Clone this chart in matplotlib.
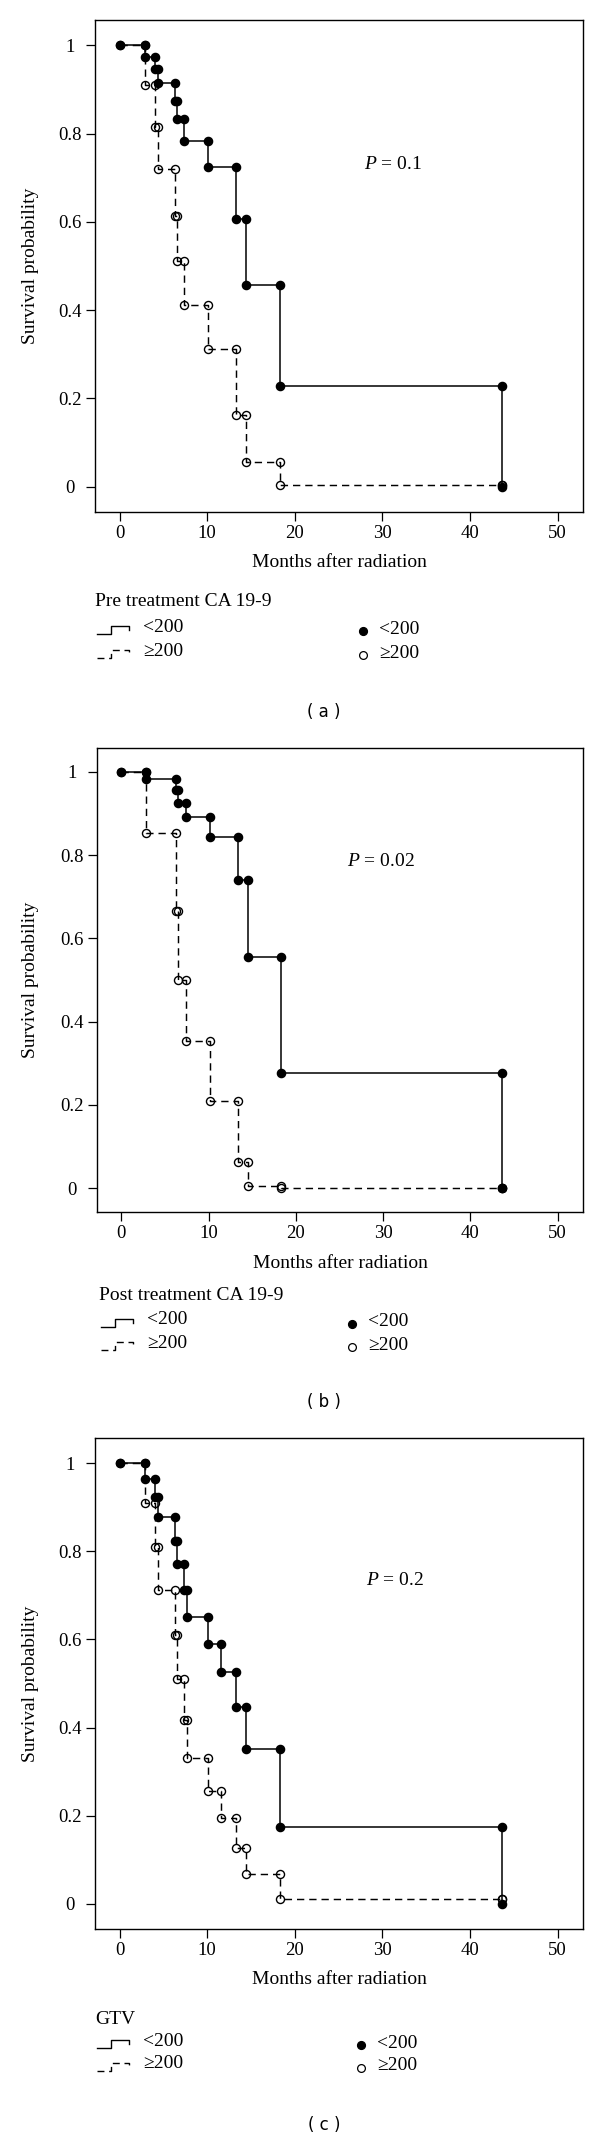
import matplotlib
matplotlib.use("Agg")
import matplotlib.pyplot as plt
from matplotlib.lines import Line2D

W, H = 600, 2140
SERIF = ["Liberation Serif", "DejaVu Serif"]

plt.rcParams["font.family"] = SERIF
plt.rcParams["mathtext.fontset"] = "custom"
plt.rcParams["mathtext.it"] = "Liberation Serif:italic"
plt.rcParams["mathtext.rm"] = "Liberation Serif"

# event times (months) and survival values (value at t=0, then after each event)
times_a = [2.85, 4.08, 4.35, 6.32, 6.54, 7.37, 10.14, 13.35, 14.49, 18.26, 43.6]
low_a = [1, 0.973, 0.945, 0.914, 0.873, 0.832, 0.783, 0.725, 0.607, 0.456, 0.228, 0.0]
high_a = [1, 0.909, 0.814, 0.720, 0.613, 0.512, 0.412, 0.311, 0.163, 0.057, 0.004, 0.004]

times_b = [2.87, 6.30, 6.53, 7.41, 10.14, 13.36, 14.51, 18.30, 43.65]
low_b = [1, 0.982, 0.956, 0.926, 0.892, 0.843, 0.739, 0.555, 0.277, 0.0]
high_b = [1, 0.852, 0.665, 0.500, 0.354, 0.209, 0.063, 0.005, 0.0, 0.0]

times_c = [2.85, 4.08, 4.35, 6.32, 6.54, 7.37, 7.68, 10.14, 11.55, 13.35, 14.49, 18.26, 43.6]
low_c = [1, 0.963, 0.923, 0.877, 0.824, 0.770, 0.713, 0.651, 0.589, 0.527, 0.447, 0.351, 0.175, 0.0]
high_c = [1, 0.910, 0.810, 0.713, 0.610, 0.511, 0.418, 0.332, 0.257, 0.194, 0.127, 0.068, 0.0105, 0.0105]

p_values = ["0.1", "0.02", "0.2"]
p_pos = [(31.2, 0.73), (29.7, 0.784), (31.5, 0.733)]
titles = ["Pre treatment CA 19-9", "Post treatment CA 19-9", "GTV"]
group_labels = ["<200", "\u2265200"]
panel_labels = ["( a )", "( b )", "( c )"]
x_ticks = [0, 10, 20, 30, 40, 50]
y_ticks = [0, 0.2, 0.4, 0.6, 0.8, 1]
y_tick_labels = ["0", "0.2", "0.4", "0.6", "0.8", "1"]

# pixel layout of each panel: axes left, right, top, bottom
boxes = [(95, 583, 20, 512), (97, 583, 748, 1212), (95, 583, 1438, 1929)]
legend_x = [95, 99, 95]
legend_dot_x = [363, 352, 361]
legend_y = [(602, 627, 651), (1296, 1320, 1343), (2020, 2041, 2064)]
label_y = [712, 1402, 2125]

DASH = (0, (5.0, 3.4))


def fx(px):
    return px / W


def fy(py):
    return 1 - py / H


def km_points(times, surv):
    xs = [0]
    ys = [surv[0]]
    for i, t in enumerate(times):
        xs += [t, t]
        ys += [surv[i], surv[i + 1]]
    return xs, ys


def draw_panel(fig, k, times, low, high):
    l, r, t, b = boxes[k]
    ax = fig.add_axes([fx(l), fy(b), (r - l) / W, (b - t) / H])

    ax.step([0] + times, high, where="post", color="black", lw=1.05, linestyle=DASH)
    ax.step([0] + times, low, where="post", color="black", lw=1.1)

    xs, ys = km_points(times, high)
    ax.plot(xs, ys, "o", ms=5.8, mfc="none", mec="black", mew=1.0)
    xs, ys = km_points(times, low)
    ax.plot(xs, ys, "o", ms=5.9, mfc="black", mec="black")

    ax.text(p_pos[k][0], p_pos[k][1], r"$P$ = " + p_values[k], fontsize=14,
            ha="center", va="center")

    ax.set_xlim(-2.8, 52.9)
    ax.set_ylim(-0.057, 1.057)
    ax.set_xticks(x_ticks)
    ax.set_yticks(y_ticks)
    ax.set_yticklabels(y_tick_labels, ha="center")
    ax.tick_params(direction="out", length=6.5, width=0.9, labelsize=13.5)
    ax.tick_params(axis="y", pad=11.5)
    ax.tick_params(axis="x", pad=3)
    for s in ax.spines.values():
        s.set_linewidth(1.0)

    # axis titles
    fig.text(fx((l + r) / 2), fy(b + 51), "Months after radiation", fontsize=14,
             ha="center", va="center")
    fig.text(fx(31), fy((t + b) / 2), "Survival probability", fontsize=14,
             rotation=90, ha="center", va="center")

    # legend block under the plot
    lx = legend_x[k]
    ty, r1, r2 = legend_y[k]
    fig.text(fx(lx), fy(ty), titles[k], fontsize=14, ha="left", va="center")
    for row, ls in zip((r1, r2), ("-", DASH)):
        y0 = row + 3
        path_x = [lx + 2, lx + 16, lx + 16, lx + 34, lx + 34]
        path_y = [y0 + 4, y0 + 4, y0 - 4, y0 - 4, y0]
        fig.add_artist(Line2D([fx(p) for p in path_x], [fy(p) for p in path_y],
                              color="black", lw=1.0, linestyle=ls))
    fig.text(fx(lx + 48), fy(r1), group_labels[0], fontsize=14, ha="left", va="center")
    fig.text(fx(lx + 48), fy(r2), group_labels[1], fontsize=14, ha="left", va="center")

    dx = legend_dot_x[k]
    fig.add_artist(Line2D([fx(dx)], [fy(r1 + 4)], marker="o", ms=5.6,
                          mfc="black", mec="black", linestyle="none"))
    fig.add_artist(Line2D([fx(dx)], [fy(r2 + 4)], marker="o", ms=5.6,
                          mfc="white", mec="black", mew=0.9, linestyle="none"))
    fig.text(fx(dx + 16), fy(r1 + 2), group_labels[0], fontsize=14, ha="left", va="center")
    fig.text(fx(dx + 16), fy(r2 + 2), group_labels[1], fontsize=14, ha="left", va="center")

    fig.text(fx(324), fy(label_y[k]), panel_labels[k], fontsize=12,
             family=["DejaVu Sans"], ha="center", va="center")


fig = plt.figure(figsize=(W / 100, H / 100), dpi=100)
draw_panel(fig, 0, times_a, low_a, high_a)
draw_panel(fig, 1, times_b, low_b, high_b)
draw_panel(fig, 2, times_c, low_c, high_c)
fig.savefig("out.png", dpi=100, facecolor="white")
